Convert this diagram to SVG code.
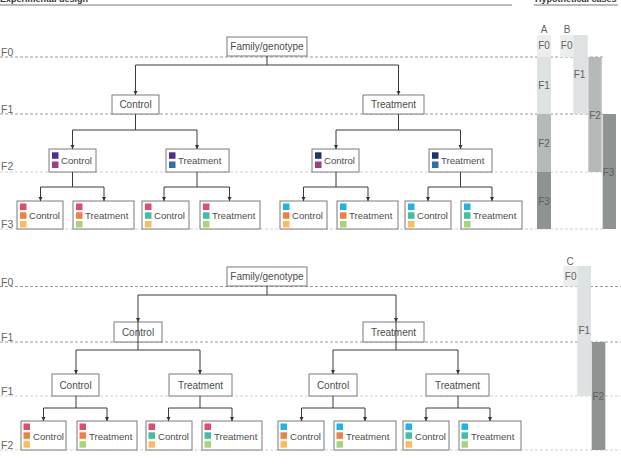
<svg xmlns="http://www.w3.org/2000/svg" width="621" height="472" viewBox="0 0 621 472">
<defs>
<marker id="ah" viewBox="0 0 8 8" refX="8" refY="4" markerWidth="4.5" markerHeight="4.5" markerUnits="userSpaceOnUse" orient="auto"><path d="M0,0 L8,4 L0,8 z" fill="#333"/></marker>
</defs>
<style>
.bg{fill:#fff}
.box{fill:#fff;stroke:#7a7a7a;stroke-width:1}
.t{font-family:"Liberation Sans",Arial,sans-serif;font-size:10px;fill:#4d4d4d}
.ts{font-family:"Liberation Sans",Arial,sans-serif;font-size:9.6px;fill:#4d4d4d}
.c{text-anchor:middle}
.lab{font-family:"Liberation Sans",Arial,sans-serif;font-size:10.5px;fill:#666}
.bl{font-family:"Liberation Sans",Arial,sans-serif;font-size:10px;fill:#5f5f5f;text-anchor:middle}
.hd{font-family:"Liberation Sans",Arial,sans-serif;font-size:9px;font-weight:bold;fill:#333}
.dk{stroke:#9a9a9a;stroke-width:1;stroke-dasharray:3,2;fill:none}
.lt{stroke:#cfcfcf;stroke-width:1;stroke-dasharray:3,2;fill:none}
.cn{stroke:#3a3a3a;stroke-width:1;fill:none;marker-end:url(#ah)}
.cl{stroke:#3a3a3a;stroke-width:1;fill:none}
.pu{fill:#4e2f8f}.mg{fill:#9c3d85}.bu{fill:#2f6db4}.nv{fill:#1b3668}
.pk{fill:#e24a6e}.or{fill:#f0803f}.lo{fill:#fbbc5e}.te{fill:#40bfa5}.lg{fill:#a8d377}.cy{fill:#1db4ea}
.g0{fill:#eceeee}.g1{fill:#dfe2e2}.g2{fill:#b5b9b8}.g3{fill:#8f9492}
</style>
<rect class="bg" x="0" y="0" width="621" height="472"/>

<!-- headers -->
<g id="headers">
<text class="hd" x="0" y="2">Experimental design</text>
<line x1="0" y1="5" x2="512" y2="5" stroke="#a5a5a5" stroke-width="1.5"/>
<text class="hd" x="535" y="2">Hypothetical cases</text>
<line x1="534" y1="5" x2="618" y2="5" stroke="#a5a5a5" stroke-width="1.5"/>
</g>

<!-- generation lines -->
<g id="generation-lines">
<line class="dk" x1="0" y1="57" x2="603" y2="57"/>
<line class="dk" x1="0" y1="114" x2="603" y2="114"/>
<line class="lt" x1="0" y1="172" x2="603" y2="172"/>
<line class="lt" x1="0" y1="229" x2="603" y2="229"/>
<line class="dk" x1="0" y1="286.5" x2="621" y2="286.5"/>
<line class="dk" x1="0" y1="342" x2="621" y2="342"/>
<line class="lt" x1="0" y1="396" x2="621" y2="396"/>
<line class="lt" x1="0" y1="450" x2="621" y2="450"/>
<text class="lab" x="1" y="56">F0</text>
<text class="lab" x="1" y="113">F1</text>
<text class="lab" x="1" y="170">F2</text>
<text class="lab" x="1" y="228">F3</text>
<text class="lab" x="1" y="286">F0</text>
<text class="lab" x="1" y="341">F1</text>
<text class="lab" x="1" y="395">F1</text>
<text class="lab" x="1" y="449">F2</text>
</g>

<!-- hypothetical cases bars -->
<g id="case-A">
<rect class="g0" x="537" y="35" width="14" height="22"/>
<rect class="g1" x="537" y="57" width="14" height="57"/>
<rect class="g2" x="537" y="114" width="14" height="58"/>
<rect class="g3" x="537" y="172" width="14" height="57"/>
<text class="bl" x="544" y="33">A</text>
<text class="bl" x="544" y="49">F0</text>
<text class="bl" x="544" y="88.5">F1</text>
<text class="bl" x="544" y="147">F2</text>
<text class="bl" x="544" y="205">F3</text>
</g>
<g id="case-B">
<rect class="g0" x="560" y="35" width="13.3" height="22"/>
<rect class="g1" x="573.3" y="35" width="14.4" height="79"/>
<rect class="g2" x="588.3" y="57" width="13.4" height="115"/>
<rect class="g3" x="602.7" y="114" width="13.3" height="115"/>
<text class="bl" x="567" y="33">B</text>
<text class="bl" x="566.7" y="49">F0</text>
<text class="bl" x="579.5" y="77.5">F1</text>
<text class="bl" x="595" y="119">F2</text>
<text class="bl" x="608.5" y="176">F3</text>
</g>
<g id="case-C">
<rect class="g0" x="563.3" y="266" width="14" height="20.5"/>
<rect class="g1" x="577.3" y="266" width="13.7" height="130"/>
<rect class="g3" x="591.7" y="342" width="13.6" height="108"/>
<text class="bl" x="570" y="265">C</text>
<text class="bl" x="570.7" y="280">F0</text>
<text class="bl" x="584.3" y="334">F1</text>
<text class="bl" x="598.3" y="400">F2</text>
</g>

<!-- TOP TREE nodes -->
<g id="t-family"><rect class="box" x="227" y="37" width="80" height="19"/><text class="t c" x="267" y="50">Family/genotype</text></g>
<g id="t-control"><rect class="box" x="112" y="95" width="47" height="19"/><text class="t c" x="135.5" y="108">Control</text></g>
<g id="t-treatment"><rect class="box" x="363" y="95" width="61" height="19"/><text class="t c" x="393.5" y="108">Treatment</text></g>

<g id="t2-c1"><rect class="box" x="49" y="149" width="47" height="23"/><rect class="pu" x="52" y="152.3" width="6.5" height="6.5"/><rect class="mg" x="52" y="161.5" width="6.5" height="6.5"/><text class="ts" x="61" y="164">Control</text></g>
<g id="t2-t1"><rect class="box" x="166" y="149" width="63" height="23"/><rect class="pu" x="169" y="152.3" width="6.5" height="6.5"/><rect class="bu" x="169" y="161.5" width="6.5" height="6.5"/><text class="ts" x="178" y="164">Treatment</text></g>
<g id="t2-c2"><rect class="box" x="312" y="149" width="47" height="23"/><rect class="nv" x="315" y="152.3" width="6.5" height="6.5"/><rect class="mg" x="315" y="161.5" width="6.5" height="6.5"/><text class="ts" x="324" y="164">Control</text></g>
<g id="t2-t2"><rect class="box" x="429" y="149" width="63" height="23"/><rect class="nv" x="432" y="152.3" width="6.5" height="6.5"/><rect class="bu" x="432" y="161.5" width="6.5" height="6.5"/><text class="ts" x="441" y="164">Treatment</text></g>

<g id="t3-1"><rect class="box" x="17" y="201" width="46" height="28"/><rect class="pk" x="20" y="203.5" width="6.5" height="6.5"/><rect class="or" x="20" y="212.3" width="6.5" height="6.5"/><rect class="lo" x="20" y="221" width="6.5" height="6.5"/><text class="ts" x="29" y="219">Control</text></g>
<g id="t3-2"><rect class="box" x="73" y="201" width="61" height="28"/><rect class="pk" x="76" y="203.5" width="6.5" height="6.5"/><rect class="or" x="76" y="212.3" width="6.5" height="6.5"/><rect class="lg" x="76" y="221" width="6.5" height="6.5"/><text class="ts" x="85" y="219">Treatment</text></g>
<g id="t3-3"><rect class="box" x="142" y="201" width="47" height="28"/><rect class="pk" x="145" y="203.5" width="6.5" height="6.5"/><rect class="te" x="145" y="212.3" width="6.5" height="6.5"/><rect class="lo" x="145" y="221" width="6.5" height="6.5"/><text class="ts" x="154" y="219">Control</text></g>
<g id="t3-4"><rect class="box" x="200" y="201" width="60" height="28"/><rect class="pk" x="203" y="203.5" width="6.5" height="6.5"/><rect class="te" x="203" y="212.3" width="6.5" height="6.5"/><rect class="lg" x="203" y="221" width="6.5" height="6.5"/><text class="ts" x="212" y="219">Treatment</text></g>
<g id="t3-5"><rect class="box" x="280" y="201" width="47" height="28"/><rect class="cy" x="283" y="203.5" width="6.5" height="6.5"/><rect class="or" x="283" y="212.3" width="6.5" height="6.5"/><rect class="lo" x="283" y="221" width="6.5" height="6.5"/><text class="ts" x="292" y="219">Control</text></g>
<g id="t3-6"><rect class="box" x="337" y="201" width="61" height="28"/><rect class="cy" x="340" y="203.5" width="6.5" height="6.5"/><rect class="or" x="340" y="212.3" width="6.5" height="6.5"/><rect class="lg" x="340" y="221" width="6.5" height="6.5"/><text class="ts" x="349" y="219">Treatment</text></g>
<g id="t3-7"><rect class="box" x="405" y="201" width="46" height="28"/><rect class="cy" x="408" y="203.5" width="6.5" height="6.5"/><rect class="te" x="408" y="212.3" width="6.5" height="6.5"/><rect class="lo" x="408" y="221" width="6.5" height="6.5"/><text class="ts" x="417" y="219">Control</text></g>
<g id="t3-8"><rect class="box" x="461" y="201" width="61" height="28"/><rect class="cy" x="464" y="203.5" width="6.5" height="6.5"/><rect class="te" x="464" y="212.3" width="6.5" height="6.5"/><rect class="lg" x="464" y="221" width="6.5" height="6.5"/><text class="ts" x="473" y="219">Treatment</text></g>

<!-- BOTTOM TREE nodes -->
<g id="b-family"><rect class="box" x="227" y="267" width="80" height="19"/><text class="t c" x="267" y="280">Family/genotype</text></g>
<g id="b-control"><rect class="box" x="114" y="322" width="48" height="20"/><text class="t c" x="138" y="335.5">Control</text></g>
<g id="b-treatment"><rect class="box" x="363" y="322" width="61" height="20"/><text class="t c" x="393.5" y="335.5">Treatment</text></g>

<g id="b2-c1"><rect class="box" x="52" y="374" width="47" height="22"/><text class="t c" x="75.5" y="388.5">Control</text></g>
<g id="b2-t1"><rect class="box" x="169" y="374" width="63" height="22"/><text class="t c" x="200.5" y="388.5">Treatment</text></g>
<g id="b2-c2"><rect class="box" x="309" y="374" width="48" height="22"/><text class="t c" x="333" y="388.5">Control</text></g>
<g id="b2-t2"><rect class="box" x="426" y="374" width="63" height="22"/><text class="t c" x="457.5" y="388.5">Treatment</text></g>

<g id="b3-1"><rect class="box" x="21" y="421" width="45" height="29"/><rect class="pk" x="23.5" y="423.5" width="6.5" height="6.5"/><rect class="or" x="23.5" y="432.3" width="6.5" height="6.5"/><rect class="lo" x="23.5" y="441.2" width="6.5" height="6.5"/><text class="ts" x="33" y="439.5">Control</text></g>
<g id="b3-2"><rect class="box" x="77" y="421" width="60" height="29"/><rect class="pk" x="79.5" y="423.5" width="6.5" height="6.5"/><rect class="or" x="79.5" y="432.3" width="6.5" height="6.5"/><rect class="lg" x="79.5" y="441.2" width="6.5" height="6.5"/><text class="ts" x="89" y="439.5">Treatment</text></g>
<g id="b3-3"><rect class="box" x="146" y="421" width="46" height="29"/><rect class="pk" x="148.5" y="423.5" width="6.5" height="6.5"/><rect class="te" x="148.5" y="432.3" width="6.5" height="6.5"/><rect class="lo" x="148.5" y="441.2" width="6.5" height="6.5"/><text class="ts" x="158" y="439.5">Control</text></g>
<g id="b3-4"><rect class="box" x="202" y="421" width="60" height="29"/><rect class="pk" x="204.5" y="423.5" width="6.5" height="6.5"/><rect class="te" x="204.5" y="432.3" width="6.5" height="6.5"/><rect class="lg" x="204.5" y="441.2" width="6.5" height="6.5"/><text class="ts" x="214" y="439.5">Treatment</text></g>
<g id="b3-5"><rect class="box" x="278" y="421" width="46" height="29"/><rect class="cy" x="280.5" y="423.5" width="6.5" height="6.5"/><rect class="or" x="280.5" y="432.3" width="6.5" height="6.5"/><rect class="lo" x="280.5" y="441.2" width="6.5" height="6.5"/><text class="ts" x="290" y="439.5">Control</text></g>
<g id="b3-6"><rect class="box" x="334" y="421" width="62" height="29"/><rect class="cy" x="336.5" y="423.5" width="6.5" height="6.5"/><rect class="or" x="336.5" y="432.3" width="6.5" height="6.5"/><rect class="lg" x="336.5" y="441.2" width="6.5" height="6.5"/><text class="ts" x="346" y="439.5">Treatment</text></g>
<g id="b3-7"><rect class="box" x="403" y="421" width="46" height="29"/><rect class="cy" x="405.5" y="423.5" width="6.5" height="6.5"/><rect class="te" x="405.5" y="432.3" width="6.5" height="6.5"/><rect class="lo" x="405.5" y="441.2" width="6.5" height="6.5"/><text class="ts" x="415" y="439.5">Control</text></g>
<g id="b3-8"><rect class="box" x="459" y="421" width="62" height="29"/><rect class="cy" x="461.5" y="423.5" width="6.5" height="6.5"/><rect class="te" x="461.5" y="432.3" width="6.5" height="6.5"/><rect class="lg" x="461.5" y="441.2" width="6.5" height="6.5"/><text class="ts" x="471" y="439.5">Treatment</text></g>

<!-- connectors -->
<g id="connectors">
<path class="cl" d="M267,56 V65"/>
<path class="cn" d="M267,65 H135.5 V95"/>
<path class="cn" d="M267,65 H398.5 V95"/>
<path class="cl" d="M135.5,114 V130"/>
<path class="cn" d="M135.5,130 H72.5 V149"/>
<path class="cn" d="M135.5,130 H197 V149"/>
<path class="cl" d="M398.5,114 V130"/>
<path class="cn" d="M398.5,130 H336 V149"/>
<path class="cn" d="M398.5,130 H460.5 V149"/>
<path class="cl" d="M72.5,172 V187"/>
<path class="cn" d="M72.5,187 H40.5 V201"/>
<path class="cn" d="M72.5,187 H104 V201"/>
<path class="cl" d="M197,172 V187"/>
<path class="cn" d="M197,187 H164 V201"/>
<path class="cn" d="M197,187 H229.5 V201"/>
<path class="cl" d="M336,172 V187"/>
<path class="cn" d="M336,187 H303.5 V201"/>
<path class="cn" d="M336,187 H368 V201"/>
<path class="cl" d="M460.5,172 V187"/>
<path class="cn" d="M460.5,187 H428 V201"/>
<path class="cn" d="M460.5,187 H492 V201"/>

<path class="cl" d="M267,286 V295"/>
<path class="cn" d="M267,295 H138 V322"/>
<path class="cn" d="M267,295 H396 V322"/>
<path class="cl" d="M138,322 V350"/>
<path class="cn" d="M138,350 H76 V374"/>
<path class="cn" d="M138,350 H200 V374"/>
<path class="cl" d="M396,322 V350"/>
<path class="cn" d="M396,350 H333 V374"/>
<path class="cn" d="M396,350 H458 V374"/>
<path class="cl" d="M76,396 V408"/>
<path class="cn" d="M76,408 H43.5 V421"/>
<path class="cn" d="M76,408 H107 V421"/>
<path class="cl" d="M200,396 V408"/>
<path class="cn" d="M200,408 H168.5 V421"/>
<path class="cn" d="M200,408 H232 V421"/>
<path class="cl" d="M333,396 V408"/>
<path class="cn" d="M333,408 H301.5 V421"/>
<path class="cn" d="M333,408 H365 V421"/>
<path class="cl" d="M458,396 V408"/>
<path class="cn" d="M458,408 H426 V421"/>
<path class="cn" d="M458,408 H490 V421"/>
</g>
</svg>
